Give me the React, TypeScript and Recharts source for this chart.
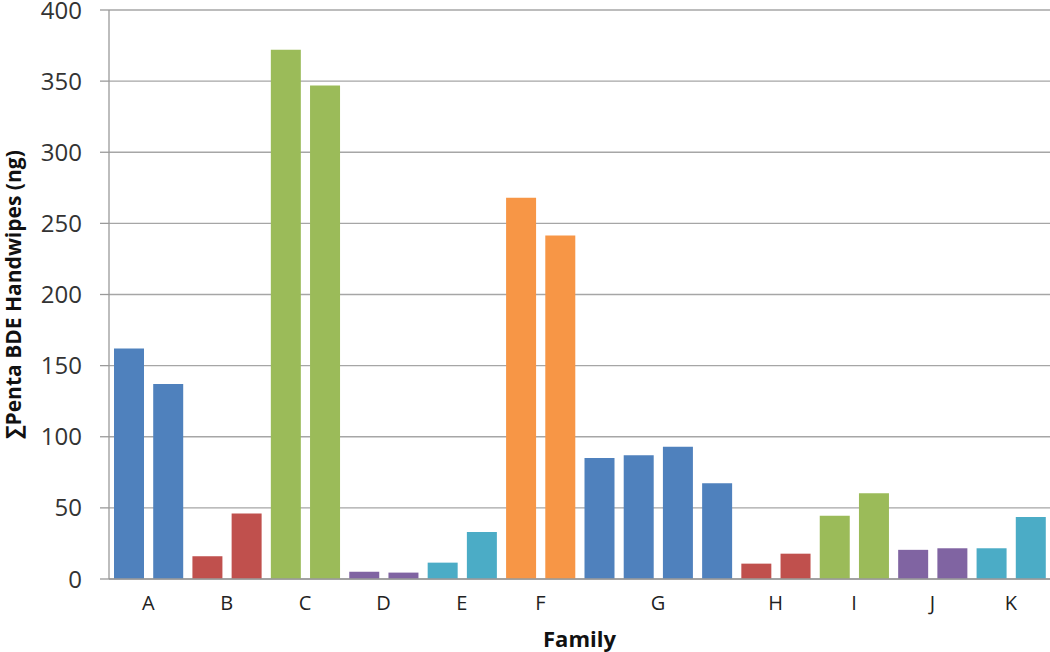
import React from "react";
import { BarChart, Bar, XAxis, YAxis, CartesianGrid, Cell } from "recharts";

const families = ["A", "B", "C", "D", "E", "F", "G", "H", "I", "J", "K"];
const groupSizes = [2, 2, 2, 2, 2, 2, 4, 2, 2, 2, 2];
const familyColors = ["#4F81BD", "#C0504D", "#9BBB59", "#8064A2", "#4BACC6", "#F79646", "#4F81BD", "#C0504D", "#9BBB59", "#8064A2", "#4BACC6"];
const values = [
  162, 137,
  16, 46,
  372, 347,
  5.1, 4.5,
  11.5, 33,
  268, 241.5,
  85, 87, 93, 67.3,
  10.8, 17.8,
  44.5, 60.3,
  20.5, 21.6,
  21.6, 43.5,
];
const yTicks = [0, 50, 100, 150, 200, 250, 300, 350, 400];

const data: { id: number; value: number; color: string; family: string; groupStart: boolean; groupSize: number }[] = [];
{
  let k = 0;
  groupSizes.forEach((n, gi) => {
    for (let j = 0; j < n; j++) {
      data.push({ id: k, value: values[k], color: familyColors[gi], family: families[gi], groupStart: j === 0, groupSize: n });
      k++;
    }
  });
}

const FONT = "'Open Sans', sans-serif";

const FamilyTick = (props: any) => {
  const { x, y, payload } = props;
  const d = data[payload.index ?? payload.value];
  if (!d || !d.groupStart) return null;
  const half = payload.offset ?? 0;
  const cx = x + (d.groupSize - 1) * half;
  return (
    <text x={cx} y={y} dy="0.71em" textAnchor="middle" fill="#222" fontSize={20} fontFamily={FONT}>
      {d.family}
    </text>
  );
};

export default function App() {
  return (
    <div style={{ position: "absolute", left: 0, top: 0, width: 1050, height: 652, background: "#fff" }}>
      <BarChart
        width={1050}
        height={652}
        data={data}
        margin={{ top: 10, right: 0, left: 0, bottom: 0 }}
        barSize={30}
      >
        <CartesianGrid vertical={false} stroke="#a6a6a6" strokeWidth={1.3} />
        <XAxis
          dataKey="id"
          type="category"
          interval={0}
          height={73}
          tickSize={0}
          tickMargin={17}
          axisLine={{ stroke: "#9a9a9a", strokeWidth: 1.3 }}
          tick={<FamilyTick />}
          label={{
            value: "Family",
            position: "insideBottom",
            offset: 5,
            style: { fontWeight: 700, fontSize: 22, fill: "#111", fontFamily: FONT },
          }}
        />
        <YAxis
          type="number"
          domain={[0, 400]}
          ticks={yTicks}
          interval={0}
          width={109}
          tickSize={9}
          tickMargin={18}
          axisLine={{ stroke: "#9a9a9a", strokeWidth: 1.3 }}
          tickLine={{ stroke: "#9a9a9a", strokeWidth: 1.3 }}
          tick={{ fill: "#333", fontSize: 24, fontFamily: FONT }}
          label={{
            value: "∑Penta BDE Handwipes (ng)",
            angle: -90,
            position: "insideLeft",
            offset: 14,
            style: { textAnchor: "middle", fontWeight: 700, fontSize: 21, fill: "#111", fontFamily: FONT },
          }}
        />
        <Bar dataKey="value" isAnimationActive={false}>
          {data.map((d) => (
            <Cell key={d.id} fill={d.color} />
          ))}
        </Bar>
      </BarChart>
    </div>
  );
}
